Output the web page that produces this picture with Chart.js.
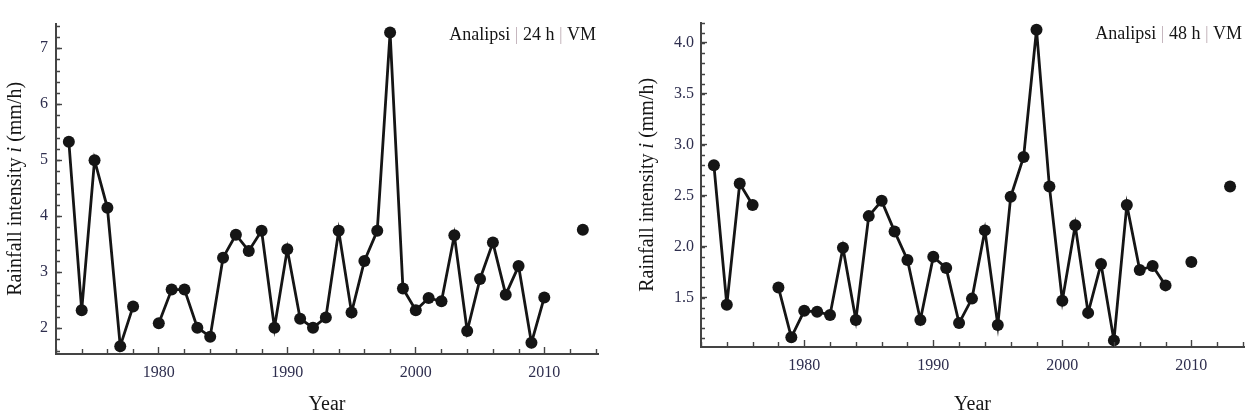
<!DOCTYPE html>
<html>
<head>
<meta charset="utf-8">
<script src="https://cdn.jsdelivr.net/npm/chart.js@4.4.1/dist/chart.umd.min.js"></script>
<style>
  body { margin: 0; background: #fff; }
  #wrap { position: relative; width: 1250px; height: 419px; }
  canvas { position: absolute; top: 0; }
</style>
</head>
<body>
<div id="wrap">
  <canvas id="c24" width="620" height="419" style="left:0px"></canvas>
  <canvas id="c48" width="625" height="419" style="left:625px"></canvas>
</div>
<script>

// years on the x axis
var years = [1973, 1974, 1975, 1976, 1977, 1978, 1979, 1980, 1981, 1982,
             1983, 1984, 1985, 1986, 1987, 1988, 1989, 1990, 1991, 1992,
             1993, 1994, 1995, 1996, 1997, 1998, 1999, 2000, 2001, 2002,
             2003, 2004, 2005, 2006, 2007, 2008, 2009, 2010, 2011, 2012, 2013];

// rainfall intensity (mm/h), null = missing year
var rain24 = [5.33, 2.32, 5.00, 4.15, 1.68, 2.39, null, 2.09, 2.69, 2.69,
              2.01, 1.85, 3.26, 3.67, 3.38, 3.74, 2.01, 3.41, 2.17, 2.01,
              2.19, 3.74, 2.28, 3.20, 3.74, 7.28, 2.71, 2.32, 2.54, 2.48,
              3.66, 1.95, 2.88, 3.53, 2.60, 3.11, 1.74, 2.55, null, null, 3.76];

var rain48 = [2.80, 1.43, 2.62, 2.41, null, 1.60, 1.11, 1.37, 1.36, 1.33,
              1.99, 1.28, 2.30, 2.45, 2.15, 1.87, 1.28, 1.90, 1.79, 1.25,
              1.49, 2.16, 1.23, 2.49, 2.88, 4.13, 2.59, 1.47, 2.21, 1.35,
              1.83, 1.08, 2.41, 1.77, 1.81, 1.62, null, 1.85, null, null, 2.59];

// labelled ticks
var yearTicks = [1980, 1990, 2000, 2010];
var ticks24 = [2, 3, 4, 5, 6, 7];
var ticks48 = [1.5, 2.0, 2.5, 3.0, 3.5, 4.0];

var ink = '#151515';
var axisCol = '#444444';
var tickTextCol = '#2e2e4e';

Chart.defaults.font.family = "'Liberation Serif', 'Times New Roman', serif";

// minor ticks, y-axis title (with italic i) and the small caption
var axisExtras = {
  id: 'axisExtras',
  afterDraw: function(chart, args, o) {
    var ctx = chart.ctx, a = chart.chartArea;
    var sx = chart.scales.x, sy = chart.scales.y;
    var v;
    ctx.save();
    ctx.strokeStyle = axisCol;
    ctx.lineWidth = 1.4;
    ctx.beginPath();
    for (v = o.xMinor[0]; v <= o.xMinor[1] + 1e-9; v += o.xMinor[2]) {
      if (yearTicks.indexOf(Math.round(v)) >= 0) continue;
      var px = Math.round(sx.getPixelForValue(v)) + 0.5;
      ctx.moveTo(px, a.bottom);
      ctx.lineTo(px, a.bottom - 5);
    }
    for (v = o.yMinor[0]; v <= o.yMinor[1] + 1e-9; v += o.yMinor[2]) {
      var py = Math.round(sy.getPixelForValue(v)) + 0.5;
      ctx.moveTo(a.left, py);
      ctx.lineTo(a.left + 4, py);
    }
    ctx.stroke();

    // y title
    ctx.save();
    ctx.translate(o.titleX, (a.top + a.bottom) / 2);
    ctx.rotate(-Math.PI / 2);
    ctx.fillStyle = ink;
    ctx.textBaseline = 'middle';
    var fN = "20px 'Liberation Serif'", fI = "italic 20px 'Liberation Serif'";
    var parts = [['Rainfall intensity ', fN], ['i', fI], [' (mm/h)', fN]];
    var tot = 0;
    parts.forEach(function(p) { ctx.font = p[1]; tot += ctx.measureText(p[0]).width; });
    var cx = -tot / 2;
    parts.forEach(function(p) { ctx.font = p[1]; ctx.fillText(p[0], cx, 0); cx += ctx.measureText(p[0]).width; });
    ctx.restore();

    // caption at top right
    ctx.font = "18px 'Liberation Serif'";
    ctx.textBaseline = 'alphabetic';
    var cap = [['Analipsi ', ink], ['|', '#c0b0b8'], [' ' + o.caption + ' ', ink], ['|', '#c0b0b8'], [' VM', ink]];
    var w = 0;
    cap.forEach(function(p) { w += ctx.measureText(p[0]).width; });
    var tx = a.right - 2 - w;
    cap.forEach(function(p) { ctx.fillStyle = p[1]; ctx.fillText(p[0], tx, a.top + 16); tx += ctx.measureText(p[0]).width; });
    ctx.restore();
  }
};

function makeChart(id, values, c) {
  var pts = years.map(function(y, i) { return { x: y, y: values[i] }; });
  return new Chart(document.getElementById(id).getContext('2d'), {
    type: 'line',
    data: {
      datasets: [{
        data: pts,
        borderColor: ink,
        backgroundColor: ink,
        borderWidth: 2.8,
        pointRadius: 6,
        pointHoverRadius: 6,
        pointBorderWidth: 0,
        tension: 0,
        spanGaps: false
      }]
    },
    options: {
      responsive: false,
      animation: false,
      events: [],
      layout: { padding: c.padding },
      plugins: {
        legend: { display: false },
        tooltip: { enabled: false },
        axisExtras: c.extras
      },
      scales: {
        x: {
          type: 'linear',
          min: 1972, max: c.xMax,
          afterBuildTicks: function(s) { s.ticks = yearTicks.map(function(v) { return { value: v }; }); },
          afterFit: function(s) { s.height = c.xHeight; },
          ticks: {
            color: tickTextCol, font: { size: 16 }, padding: 16,
            maxRotation: 0, autoSkip: false,
            callback: function(v) { return String(v); }
          },
          grid: { drawOnChartArea: false, drawTicks: true, tickLength: -7, tickWidth: 1.4, tickColor: axisCol },
          border: { color: axisCol, width: 2 },
          title: { display: true, text: 'Year', color: ink, font: { size: 20 }, padding: { top: 0, bottom: 2 } }
        },
        y: {
          type: 'linear',
          min: c.yMin, max: c.yMax,
          afterBuildTicks: function(s) { s.ticks = c.yTicks.map(function(v) { return { value: v }; }); },
          afterFit: function(s) { s.width = c.yWidth; },
          ticks: {
            color: tickTextCol, font: { size: 16 }, padding: c.yPad, autoSkip: false,
            callback: function(v) { return c.yFmt(v); }
          },
          grid: { drawOnChartArea: false, drawTicks: true, tickLength: -6, tickWidth: 1.4, tickColor: axisCol },
          border: { color: axisCol, width: 2 }
        }
      }
    },
    plugins: [axisExtras]
  });
}

makeChart('c24', rain24, {
  padding: { left: 0, top: 21, right: 22, bottom: 0 },
  xMax: 2014.18, xHeight: 65,
  yMin: 1.54, yMax: 7.44, yWidth: 56, yPad: 14,
  yTicks: ticks24,
  yFmt: function(v) { return String(v); },
  extras: { xMinor: [1972, 2014, 2], yMinor: [1.6, 7.4, 0.2], titleX: 16, caption: '24 h' }
});

makeChart('c48', rain48, {
  padding: { left: 0, top: 12, right: 6, bottom: 0 },
  xMax: 2014.08, xHeight: 72,
  yMin: 1.015, yMax: 4.2, yWidth: 76, yPad: 13,
  yTicks: ticks48,
  yFmt: function(v) { return v.toFixed(1); },
  extras: { xMinor: [1972, 2014, 2], yMinor: [1.1, 4.2, 0.1], titleX: 23, caption: '48 h' }
});

</script>
</body>
</html>
